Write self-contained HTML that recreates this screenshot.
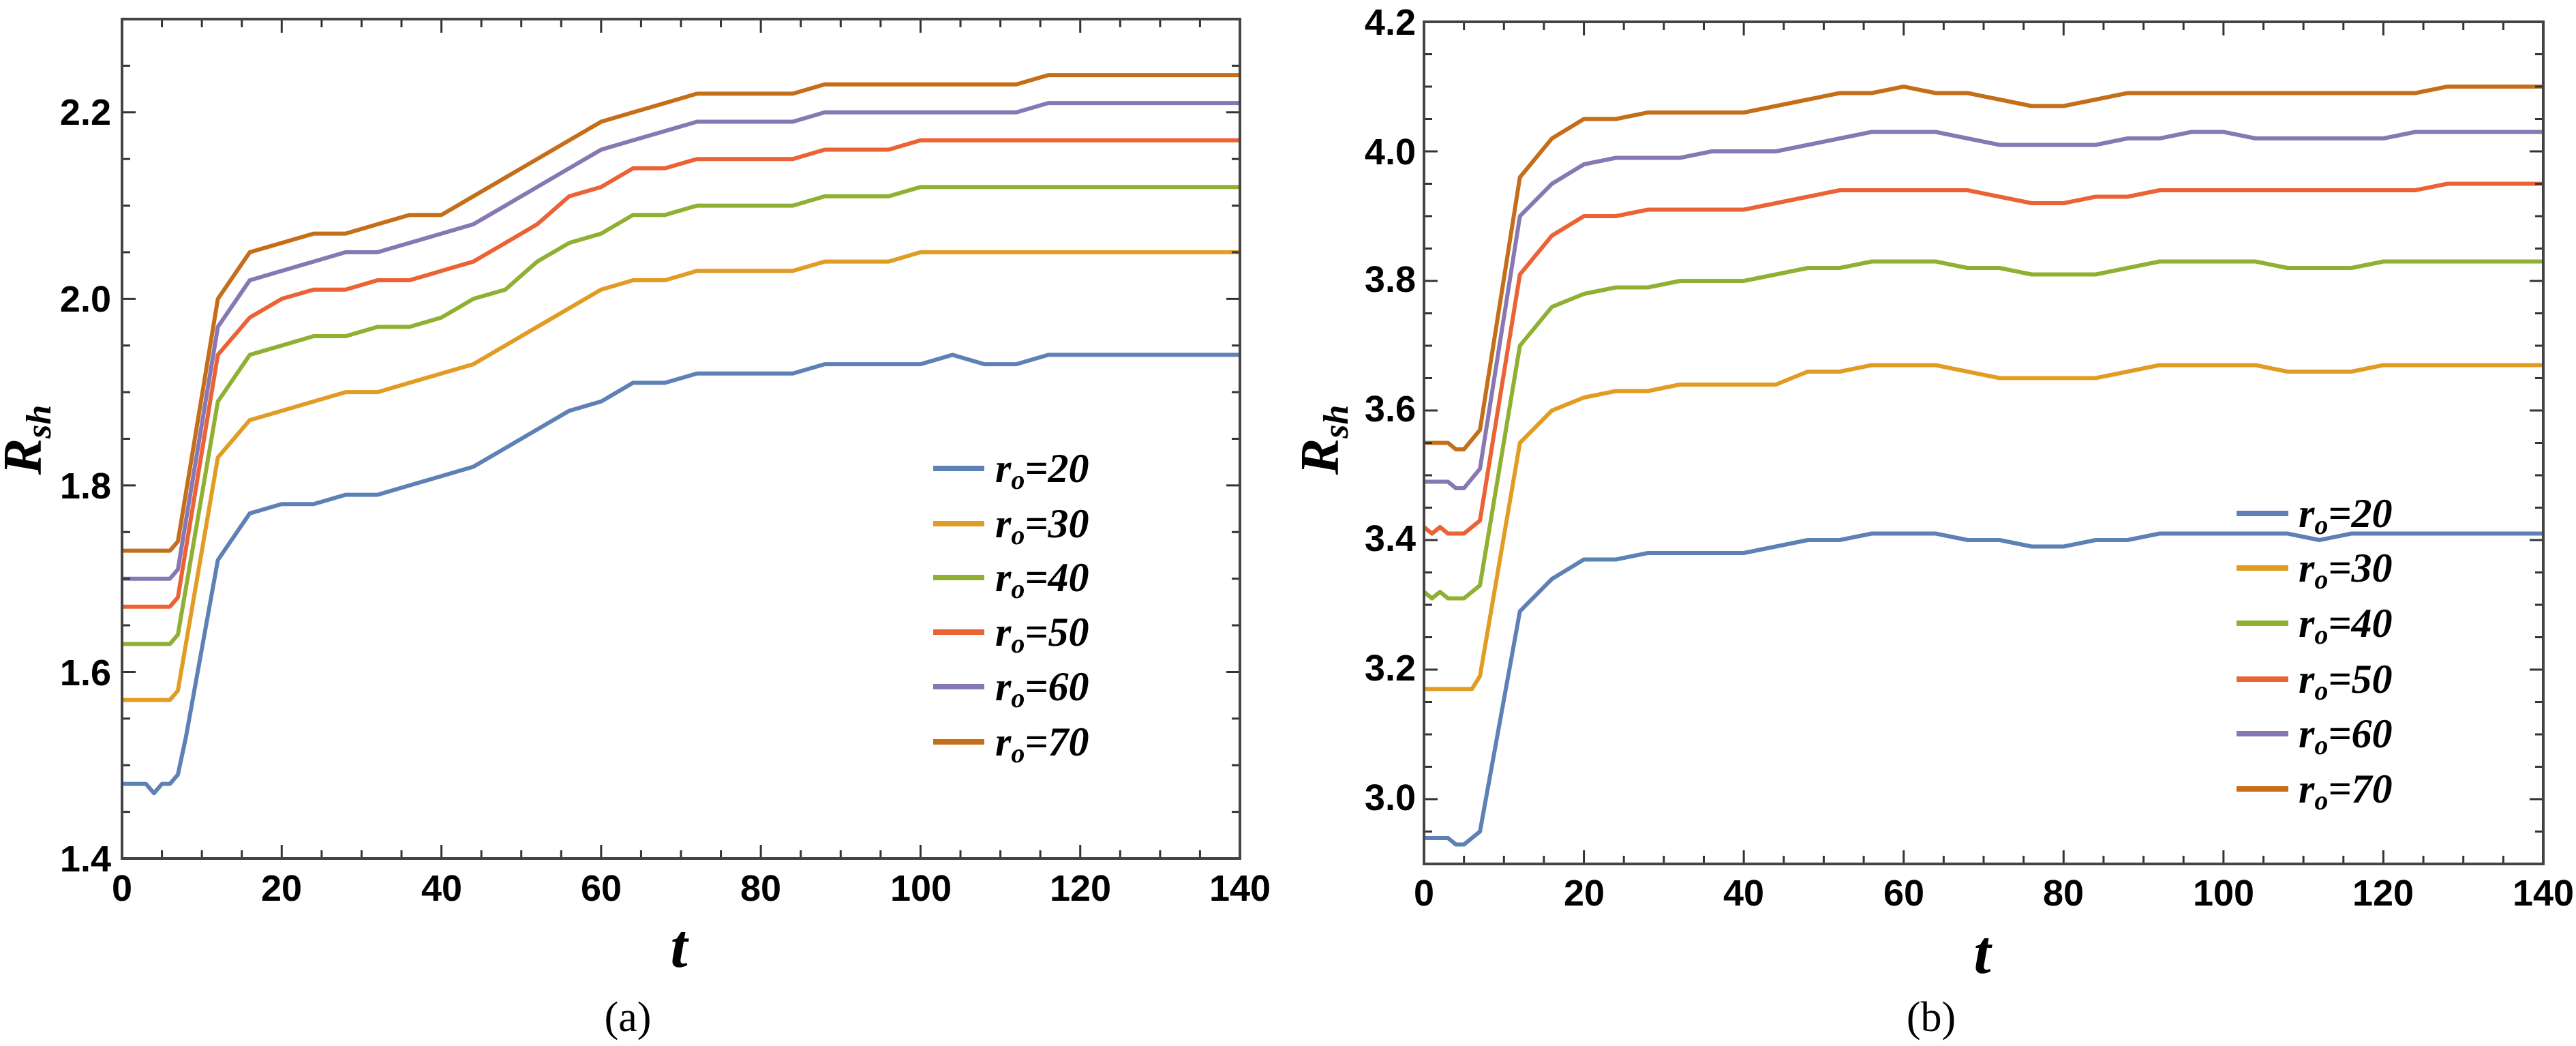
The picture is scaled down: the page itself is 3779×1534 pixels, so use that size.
<!DOCTYPE html>
<html><head><meta charset="utf-8"><style>
html,body{margin:0;padding:0;background:#fff;}
svg{display:block;}
.tk{font-family:"Liberation Sans",Arial,sans-serif;font-weight:bold;font-size:54px;fill:#000;}
.lg{font-family:"Liberation Serif",serif;font-weight:bold;font-style:italic;font-size:60px;fill:#000;}
.ax{font-family:"Liberation Serif",serif;font-weight:bold;font-style:italic;fill:#000;}
.cap{font-family:"Liberation Serif",serif;font-size:62px;fill:#000;}
</style></head><body>
<svg id="s" width="3779" height="1534" viewBox="0 0 3779 1534" xmlns="http://www.w3.org/2000/svg">
<rect width="3779" height="1534" fill="#fff"/>
<g id="g"></g>
<g class="tk" text-anchor="end">
<text x="163" y="1278">1.4</text><text x="163" y="1005">1.6</text><text x="163" y="731">1.8</text><text x="163" y="457">2.0</text><text x="163" y="183">2.2</text>
</g>
<g class="tk" text-anchor="middle">
<text x="179" y="1321">0</text><text x="413" y="1321">20</text><text x="648" y="1321">40</text><text x="882" y="1321">60</text><text x="1116" y="1321">80</text><text x="1351" y="1321">100</text><text x="1585" y="1321">120</text><text x="1819" y="1321">140</text>
</g>
<text class="ax" font-size="80" transform="translate(60,645) rotate(-90)" text-anchor="middle">R<tspan font-size="52" dy="14">sh</tspan></text>
<text class="ax" font-size="90" x="996" y="1418" text-anchor="middle">t</text>
<text class="cap" x="921" y="1512" text-anchor="middle">(a)</text>
<g class="tk" text-anchor="end">
<text x="2077" y="1188">3.0</text><text x="2077" y="998">3.2</text><text x="2077" y="808">3.4</text><text x="2077" y="618">3.6</text><text x="2077" y="428">3.8</text><text x="2077" y="241">4.0</text><text x="2077" y="51">4.2</text>
</g>
<g class="tk" text-anchor="middle">
<text x="2089" y="1328">0</text><text x="2324" y="1328">20</text><text x="2558" y="1328">40</text><text x="2793" y="1328">60</text><text x="3027" y="1328">80</text><text x="3262" y="1328">100</text><text x="3496" y="1328">120</text><text x="3731" y="1328">140</text>
</g>
<text class="ax" font-size="80" transform="translate(1963,645) rotate(-90)" text-anchor="middle">R<tspan font-size="52" dy="14">sh</tspan></text>
<text class="ax" font-size="90" x="2908" y="1427" text-anchor="middle">t</text>
<text class="cap" x="2833" y="1512" text-anchor="middle">(b)</text>
<g class="lg">
<text x="1460" y="707">r<tspan font-size="40" dy="10">o</tspan><tspan dy="-10">=20</tspan></text>
<text x="1460" y="788">r<tspan font-size="40" dy="10">o</tspan><tspan dy="-10">=30</tspan></text>
<text x="1460" y="867">r<tspan font-size="40" dy="10">o</tspan><tspan dy="-10">=40</tspan></text>
<text x="1460" y="947">r<tspan font-size="40" dy="10">o</tspan><tspan dy="-10">=50</tspan></text>
<text x="1460" y="1027">r<tspan font-size="40" dy="10">o</tspan><tspan dy="-10">=60</tspan></text>
<text x="1460" y="1108">r<tspan font-size="40" dy="10">o</tspan><tspan dy="-10">=70</tspan></text>
<text x="3372" y="773">r<tspan font-size="40" dy="10">o</tspan><tspan dy="-10">=20</tspan></text>
<text x="3372" y="853">r<tspan font-size="40" dy="10">o</tspan><tspan dy="-10">=30</tspan></text>
<text x="3372" y="934">r<tspan font-size="40" dy="10">o</tspan><tspan dy="-10">=40</tspan></text>
<text x="3372" y="1016">r<tspan font-size="40" dy="10">o</tspan><tspan dy="-10">=50</tspan></text>
<text x="3372" y="1096">r<tspan font-size="40" dy="10">o</tspan><tspan dy="-10">=60</tspan></text>
<text x="3372" y="1177">r<tspan font-size="40" dy="10">o</tspan><tspan dy="-10">=70</tspan></text>
</g>
</svg>
<script>
var C=["#5E81B5","#E19C24","#8FB032","#EB6235","#8778B3","#C56E1A"];
var g=document.getElementById("g"),NS="http://www.w3.org/2000/svg";
function el(n,a){var e=document.createElementNS(NS,n);for(var k in a)e.setAttribute(k,a[k]);g.appendChild(e);return e;}
function panel(L,R,T,B,v0,v1,ymaj,ymin,data,legY,lx0,lx1){
  var X=function(t){return L+t*(R-L)/140;},Y=function(v){return B-(v-v0)*(B-T)/(v1-v0);};
  data.forEach(function(d,i){var p=[];for(var j=0;j<d.length;j+=2)p.push(X(d[j]).toFixed(1)+","+Y(d[j+1]).toFixed(1));
    el("polyline",{points:p.join(" "),fill:"none",stroke:C[i],"stroke-width":6,"stroke-linejoin":"round"});});
  for(var t=0;t<=140;t+=5){var x=X(t),len=(t%20==0)?20:12;
    el("line",{x1:x,y1:B,x2:x,y2:B-len,stroke:"#333","stroke-width":3});
    el("line",{x1:x,y1:T,x2:x,y2:T+len,stroke:"#333","stroke-width":3});}
  for(var k=0;;k++){var v=v0+k*ymin;if(v>v1+1e-6)break;var y=Y(v);var m=Math.abs(v/ymaj-Math.round(v/ymaj))<1e-3;var len=m?20:12;
    el("line",{x1:L,y1:y,x2:L+len,y2:y,stroke:"#333","stroke-width":3});
    el("line",{x1:R,y1:y,x2:R-len,y2:y,stroke:"#333","stroke-width":3});}
  el("rect",{x:L,y:T,width:R-L,height:B-T,fill:"none",stroke:"#444","stroke-width":4});
  legY.forEach(function(y,i){el("line",{x1:lx0,y1:y,x2:lx1,y2:y,stroke:C[i],"stroke-width":8});});
}
var A=[
[0,1.48,3,1.48,4,1.47,5,1.48,6,1.48,7,1.49,8,1.53,12,1.72,16,1.77,20,1.78,24,1.78,28,1.79,32,1.79,36,1.80,40,1.81,44,1.82,48,1.84,52,1.86,56,1.88,60,1.89,64,1.91,68,1.91,72,1.92,84,1.92,88,1.93,100,1.93,104,1.94,108,1.93,112,1.93,116,1.94,140,1.94],
[0,1.57,6,1.57,7,1.58,12,1.83,16,1.87,20,1.88,24,1.89,28,1.90,32,1.90,36,1.91,40,1.92,44,1.93,48,1.95,52,1.97,56,1.99,60,2.01,64,2.02,68,2.02,72,2.03,84,2.03,88,2.04,96,2.04,100,2.05,140,2.05],
[0,1.63,6,1.63,7,1.64,12,1.89,16,1.94,20,1.95,24,1.96,28,1.96,32,1.97,36,1.97,40,1.98,44,2.00,48,2.01,52,2.04,56,2.06,60,2.07,64,2.09,68,2.09,72,2.10,84,2.10,88,2.11,96,2.11,100,2.12,140,2.12],
[0,1.67,6,1.67,7,1.68,12,1.94,16,1.98,20,2.00,24,2.01,28,2.01,32,2.02,36,2.02,40,2.03,44,2.04,48,2.06,52,2.08,56,2.11,60,2.12,64,2.14,68,2.14,72,2.15,84,2.15,88,2.16,96,2.16,100,2.17,140,2.17],
[0,1.70,6,1.70,7,1.71,12,1.97,16,2.02,20,2.03,24,2.04,28,2.05,32,2.05,36,2.06,40,2.07,44,2.08,48,2.10,52,2.12,56,2.14,60,2.16,64,2.17,68,2.18,72,2.19,84,2.19,88,2.20,112,2.20,116,2.21,140,2.21],
[0,1.73,6,1.73,7,1.74,12,2.00,16,2.05,20,2.06,24,2.07,28,2.07,32,2.08,36,2.09,40,2.09,44,2.11,48,2.13,52,2.15,56,2.17,60,2.19,64,2.20,68,2.21,72,2.22,84,2.22,88,2.23,112,2.23,116,2.24,140,2.24]];
var Bd=[
[0,2.94,3,2.94,4,2.93,5,2.93,7,2.95,12,3.29,16,3.34,20,3.37,24,3.37,28,3.38,40,3.38,44,3.39,48,3.40,52,3.40,56,3.41,64,3.41,68,3.40,72,3.40,76,3.39,80,3.39,84,3.40,88,3.40,92,3.41,108,3.41,112,3.40,116,3.41,140,3.41],
[0,3.17,6,3.17,7,3.19,12,3.55,16,3.60,20,3.62,24,3.63,28,3.63,32,3.64,44,3.64,48,3.66,52,3.66,56,3.67,64,3.67,72,3.65,84,3.65,92,3.67,104,3.67,108,3.66,116,3.66,120,3.67,140,3.67],
[0,3.32,1,3.31,2,3.32,3,3.31,5,3.31,7,3.33,12,3.70,16,3.76,20,3.78,24,3.79,28,3.79,32,3.80,40,3.80,44,3.81,48,3.82,52,3.82,56,3.83,64,3.83,68,3.82,72,3.82,76,3.81,84,3.81,92,3.83,104,3.83,108,3.82,116,3.82,120,3.83,140,3.83],
[0,3.42,1,3.41,2,3.42,3,3.41,5,3.41,7,3.43,12,3.81,16,3.87,20,3.90,24,3.90,28,3.91,40,3.91,44,3.92,48,3.93,52,3.94,68,3.94,72,3.93,76,3.92,80,3.92,84,3.93,88,3.93,92,3.94,124,3.94,128,3.95,140,3.95],
[0,3.49,3,3.49,4,3.48,5,3.48,7,3.51,12,3.90,16,3.95,20,3.98,24,3.99,32,3.99,36,4.00,44,4.00,48,4.01,52,4.02,56,4.03,64,4.03,68,4.02,72,4.01,84,4.01,88,4.02,92,4.02,96,4.03,100,4.03,104,4.02,120,4.02,124,4.03,140,4.03],
[0,3.55,3,3.55,4,3.54,5,3.54,7,3.57,12,3.96,16,4.02,20,4.05,24,4.05,28,4.06,40,4.06,44,4.07,48,4.08,52,4.09,56,4.09,60,4.10,64,4.09,68,4.09,72,4.08,76,4.07,80,4.07,84,4.08,88,4.09,124,4.09,128,4.10,140,4.10]];
panel(179,1819,28,1259,1.4,2.3,0.2,0.05,A,[687,768,847,927,1007,1088],1369,1444);
panel(2089,3731,32,1267,2.9,4.2,0.2,0.05,Bd,[753,833,914,996,1076,1157],3281,3357);
</script>
</body></html>
